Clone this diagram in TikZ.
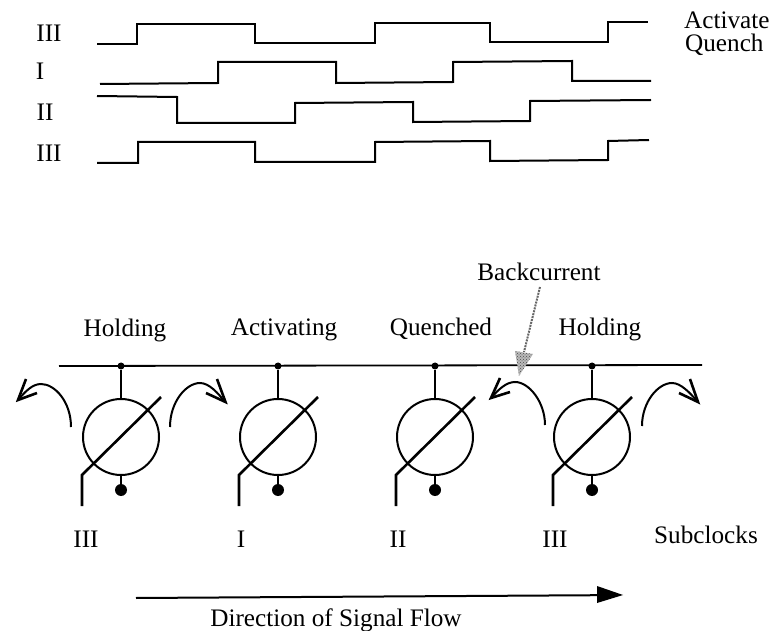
\documentclass[tikz,border=0pt]{standalone}
\usepackage{fontspec}
\setmainfont{Liberation Serif}
\usetikzlibrary{
    patterns,
    positioning
}
\tikzset{
    lbl/.style={inner sep=0pt, font=\fontsize{25.2}{28}\selectfont},
    wave/.style={line width=2pt, line join=miter},
    wire/.style={line width=1.8pt},
    meter/.style={draw, circle, line width=2pt, minimum size=76pt, inner sep=0pt},
    blob/.style={circle, fill=black, inner sep=0pt, minimum size=#1},
    slash/.style={line width=2.6pt, line join=miter},
    flow/.style={line width=2pt},
    barb/.style={line width=2.6pt, line join=miter}
}
\newcommand{\mosstage}[2]{
    \node[blob=7pt] (#1j) at (#2,366) {};
    \node[meter] (#1m) at (#2,437) {};
    \node[blob=12pt] (#1d) at (#2,490) {};
    \coordinate (#1a) at (#2+40,397);
    \coordinate (#1b) at (#2-39,475);
    \coordinate (#1c) at (#2-39,506);
    \draw[wire] (#1j) -- (#1m) (#1m) -- (#1d);
    \draw[slash] (#1a) -- (#1b) -- (#1c);
}
\begin{document}
\begin{tikzpicture}[x=1pt, y=-1pt]
    \useasboundingbox (0,0) rectangle (780,631);
    % clock phases
    \node[lbl] (pa) at (49,33) {III};
    \node[lbl] (pb) at (40,71) {I};
    \node[lbl] (pc) at (45,112) {II};
    \node[lbl] (pd) at (49,153) {III};
    \node[lbl, anchor=west] (act) at (684,20) {Activate};
    \node[lbl, anchor=west] (que) at (685,45) {Quench};
    \draw[wave] (97,44) -- (137,44) -- (137,24) -- (255,24) -- (255,43) -- (375,43) -- (375,23)
        -- (490,23) -- (490,42) -- (608,42) -- (608,22) -- (648,22);
    \draw[wave] (100,84) -- (218,83) -- (218,62) -- (336,62) -- (336,83) -- (453,82) -- (453,62)
        -- (572,61) -- (572,81) -- (651,81);
    \draw[wave] (97,96) -- (177,97) -- (177,123) -- (295,123) -- (295,103) -- (413,102) -- (413,122)
        -- (530,121) -- (530,101) -- (651,100);
    \draw[wave] (97,163) -- (138,163) -- (138,142) -- (255,142) -- (255,162) -- (375,162) -- (375,142)
        -- (490,141) -- (490,161) -- (608,160) -- (608,141) -- (649,140);
    % stages
    \mosstage{s}{121}
    \mosstage{t}{278}
    \mosstage{u}{435}
    \mosstage{v}{592}
    \coordinate (busl) at (59,366);
    \coordinate (busr) at (702,365);
    \draw[wire] (busl) -- (busr);
    % charge moving out of the wells
    \draw[flow] (71,427) .. controls (71,402) and (55,384) .. (41,384) .. controls (32,384) and (25,392) .. (18,400);
    \draw[barb] (26,379) -- (18,400) -- (37,393);
    \draw[flow] (170,427) .. controls (170,402) and (186,383) .. (200,383) .. controls (209,383) and (218,393) .. (225,402);
    \draw[barb] (217,379) -- (225.5,402) -- (206,393);
    \draw[flow] (545,425) .. controls (545,402) and (529,382) .. (515,382) .. controls (506,382) and (498,390) .. (491,398);
    \draw[barb] (500,378) -- (491,398) -- (510,392);
    \draw[flow] (642,426) .. controls (642,402) and (658,383) .. (672,383) .. controls (681,383) and (690,393) .. (698,402);
    \draw[barb] (690,379) -- (698,402) -- (679,393);
    % state names
    \node[lbl] (h1) at (125,330) {Holding};
    \node[lbl] (ac) at (284,330) {Activating};
    \node[lbl] (qu) at (441,329) {Quenched};
    \node[lbl] (h2) at (600,329) {Holding};
    \node[lbl] (bc) at (539,272) {Backcurrent};
    \coordinate (bcs) at (540,287);
    \coordinate (bce) at (524,352);
    \coordinate (bcl) at (515,351);
    \coordinate (bcr) at (533,354);
    \coordinate (bct) at (519,376);
    \draw[gray!80!black, line width=2pt, densely dotted] (bcs) -- (bce);
    \fill[gray!55] (bcl) -- (bcr) -- (bct) -- cycle;
    \fill[pattern=crosshatch dots, pattern color=black!70] (bcl) -- (bcr) -- (bct) -- cycle;
    % subclocks
    \node[lbl] (c1) at (86,539) {III};
    \node[lbl] (c2) at (241,539) {I};
    \node[lbl] (c3) at (398,539) {II};
    \node[lbl] (c4) at (555,539) {III};
    \node[lbl] (sub) at (706,535) {Subclocks};
    % direction
    \coordinate (dl) at (136,598);
    \coordinate (dm) at (598,595.2);
    \coordinate (dt) at (623,595);
    \coordinate (du) at (597,586);
    \coordinate (dv) at (597,603);
    \draw[line width=2pt] (dl) -- (dm);
    \fill (du) -- (dt) -- (dv) -- cycle;
    \node[lbl] (dir) at (336,620) {Direction of Signal Flow};
\end{tikzpicture}
\end{document}
